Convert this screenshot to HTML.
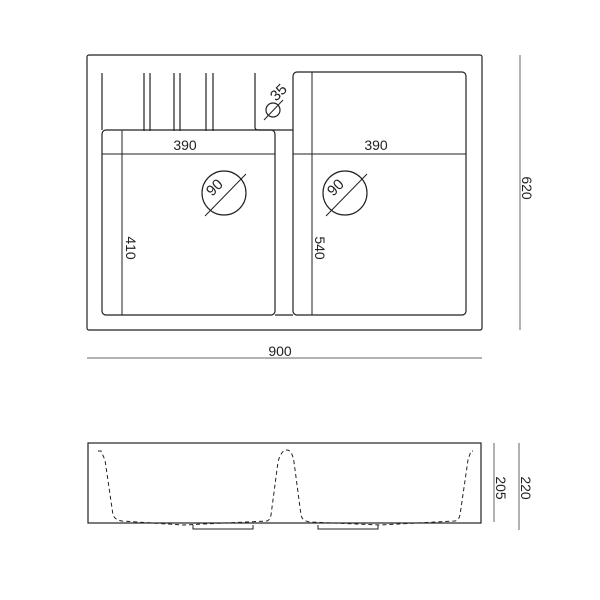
<!DOCTYPE html>
<html><head><style>html,body{margin:0;padding:0;background:#fff}svg{display:block}</style></head><body>
<svg width="600" height="600" viewBox="0 0 600 600" xmlns="http://www.w3.org/2000/svg" font-family="Liberation Sans, sans-serif" font-size="14" fill="none" stroke="#222" stroke-width="1.2">
<rect x="87" y="55" width="395" height="275" rx="2"/>
<rect x="102" y="130" width="173" height="185" rx="4"/>
<rect x="293" y="72" width="173" height="243" rx="4"/>
<path d="M255 73 V127 Q255 130 258 130 H293 M102 73 V130 M144 73 V131 M150 73 V131 M174 73 V131 M180 73 V131 M206 73 V131 M213 73 V131 M275 315 H293"/>
<path d="M102 154 H275 M293 154 H466 M122 130 V315 M312 72 V315" stroke-width="1"/>
<circle cx="224" cy="193" r="22"/>
<circle cx="345" cy="193" r="22"/>
<path d="M205 216 L246 174 M326 216 L367 174 M264 120 L283 100" stroke-width="1"/>
<circle cx="273" cy="110" r="7"/>
<path d="M520 55 V330 M87 358 H482 M494 443 V522 M519 443 V530" stroke="#666" stroke-width="1"/>
<rect x="88" y="443" width="393" height="80"/>
<path d="M98 451 H101 L105 460 L113 515 Q115 520 122 521 L183 525 L267 521 Q270 520 271 515 L278 462 Q281 450 287 450 Q292 450 294 462 L301 515 Q302 521 310 522 L380 525 L455 521 Q459 520 460 515 L468 460 L471 451 H473" stroke-dasharray="4,3" stroke-width="1"/>
<path d="M193 525 V529 H253 V525 M318 525 V529 H378 V525" stroke-width="1"/>
<g fill="#222" stroke="none">
<text x="185" y="150" text-anchor="middle">390</text>
<text x="376" y="150" text-anchor="middle">390</text>
<text x="280" y="356" text-anchor="middle">900</text>
<text transform="translate(126,248) rotate(90)" text-anchor="middle">410</text>
<text transform="translate(315,248) rotate(90)" text-anchor="middle">540</text>
<text transform="translate(522,188) rotate(90)" text-anchor="middle">620</text>
<text transform="translate(496,488) rotate(90)" text-anchor="middle">205</text>
<text transform="translate(521,488) rotate(90)" text-anchor="middle">220</text>
<text transform="translate(218,191) rotate(-45)" text-anchor="middle" font-size="15">90</text>
<text transform="translate(339,191) rotate(-45)" text-anchor="middle" font-size="15">90</text>
<text transform="translate(282,96) rotate(-45)" text-anchor="middle" font-size="15">35</text>
</g>
</svg>
</body></html>
